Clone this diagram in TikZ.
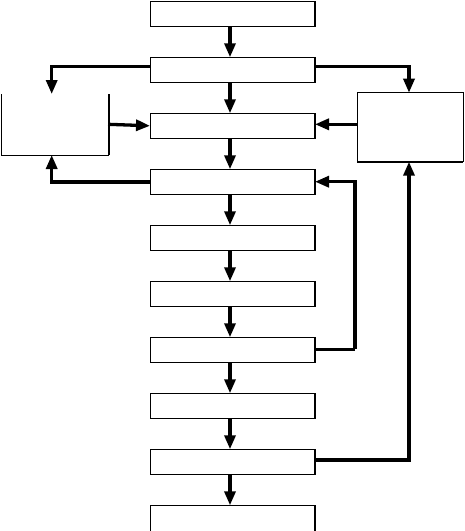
\documentclass[tikz,border=0pt]{standalone}
\usetikzlibrary{arrows.meta}
\begin{document}
\begin{tikzpicture}[x=1pt,y=-1pt,
  box/.style={draw,line width=0.9pt,minimum width=165pt,minimum height=25.5pt,inner sep=0pt,outer sep=0pt},
  sidebox/.style={draw=none,inner sep=0pt,outer sep=0pt},
  arr/.style={line width=3.3pt,-{Triangle[length=14pt,width=11pt]}},
  lnk/.style={line width=3.3pt}]
\useasboundingbox (0,0) rectangle (464,531);
\foreach \i in {1,...,9}{
  \node[box] (b\i) at (232.5,{14+56*(\i-1)}) {};
  \draw[line width=2pt] (b\i.north east) -- (b\i.south east);
}
\node[box,minimum height=31pt] (b10) at (232.5,520.8) {};
\draw[line width=2pt] (b10.north east) -- (b10.south east);
\node[sidebox,minimum width=106.3pt,minimum height=61pt] (L) at (54.9,124.5) {};
\draw[line width=0.9pt] (L.north west) -- (L.south west) -- (L.south east) -- (L.north east);
\draw[line width=0.9pt] ([xshift=1.3pt]L.south east) -- ([xshift=1.3pt]L.north east);
\node[box,minimum width=106pt,minimum height=69pt] (R) at (410,127.2) {};
\draw[line width=2pt] (R.south west) -- (R.south east);
% main column
\foreach \i [evaluate=\i as \j using int(\i+1)] in {1,...,9}{
  \draw[arr] ([xshift=-2.5pt]b\i.south) -- ([xshift=-2.5pt]b\j.north);
}
% side links
\draw[arr] ([yshift=3.3pt]b2.west) -| ([xshift=-3.2pt]L.north);
\draw[arr] ([yshift=3.3pt]b2.east) -| ([xshift=-1pt]R.north);
\draw[arr] ([yshift=0.2pt]L.east) -- ([yshift=0.2pt]b3.west);
\draw[arr] ([yshift=2.9pt]R.west) -- ([yshift=1.7pt]b3.east);
\draw[arr] (b4.west) -| ([xshift=-3.2pt]L.south);
\coordinate (c7) at (355,349.3);
\draw[lnk] ([yshift=0.7pt]b7.east) -- (c7);
\draw[arr] (c7) |- ([yshift=0.3pt]b4.east);
\draw[arr] ([yshift=2pt]b9.east) -| ([xshift=-1pt]R.south);
\end{tikzpicture}
\end{document}
